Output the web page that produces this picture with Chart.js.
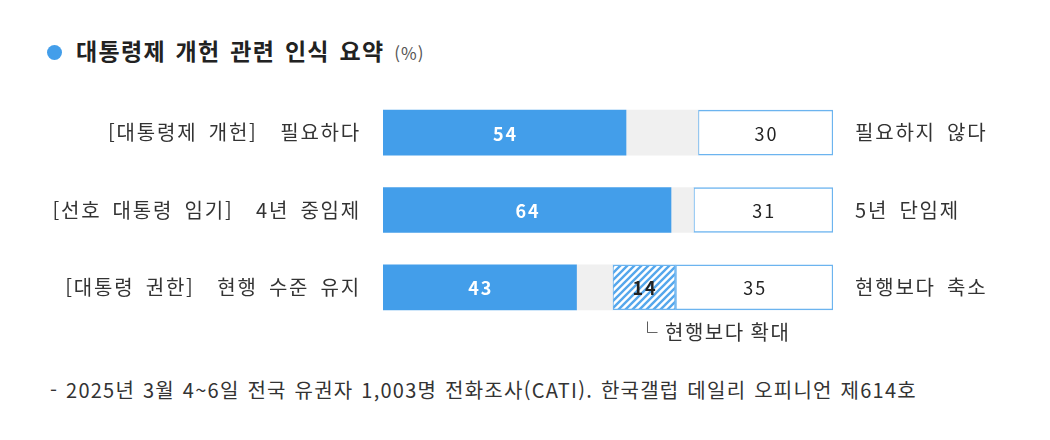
<!DOCTYPE html>
<html lang="ko">
<head>
  <meta charset="UTF-8">
  <title>대통령제 개헌 관련 인식 요약</title>
  <script src="https://cdn.jsdelivr.net/npm/chart.js"></script>
  <style>
    body { margin: 0; background: #fff; font-family: "Noto Sans CJK KR", "Noto Sans", sans-serif; color: #333; }
    .wrap { position: relative; width: 1050px; height: 440px; }
    .title { position: absolute; left: 47px; top: 34px; line-height: 32px; font-size: 23px; font-weight: bold; color: #222; letter-spacing: 1.3px; word-spacing: 2px; }
    .title .dot { display: inline-block; width: 15px; height: 15px; border-radius: 50%; background: #439eea; margin-right: 14px; vertical-align: 0px; }
    .title small { font-size: 17px; font-weight: normal; color: #555; letter-spacing: 1px; }
    .note { position: absolute; left: 50px; top: 375px; line-height: 30px; font-size: 20px; color: #333; letter-spacing: 1.25px; word-spacing: 1px; }
    #chartBox { position: absolute; left: 0; top: 60px; width: 1050px; height: 300px; }
  </style>
</head>
<body>
  <div class="wrap">
    <div class="title"><span class="dot"></span>대통령제 개헌 관련 인식 요약 <small>(%)</small></div>
    <div id="chartBox"><canvas id="chart"></canvas></div>
    <div class="note">- 2025년 3월 4~6일 전국 유권자 1,003명 전화조사(CATI). 한국갤럽 데일리 오피니언 제614호</div>
  </div>
  <script>
    const leftLabels = ['[대통령제 개헌]  필요하다', '[선호 대통령 임기]  4년 중임제', '[대통령 권한]  현행 수준 유지'];
    const rightLabels = ['필요하지 않다', '5년 단임제', '현행보다 축소'];
    const leftValues = [54, 64, 43];
    const otherValues = [16, 5, 8];
    const hatchValues = [0, 0, 14];
    const rightValues = [30, 31, 35];
    const hatchNote = '└ 현행보다 확대';

    const BLUE = '#439eea';
    const EDGE = '#6cb4ef';

    function makeHatch() {
      const c = document.createElement('canvas');
      c.width = 7; c.height = 7;
      const g = c.getContext('2d');
      g.fillStyle = '#fff';
      g.fillRect(0, 0, 7, 7);
      g.strokeStyle = '#55a7ec';
      g.lineWidth = 2.4;
      g.beginPath();
      g.moveTo(0, 7); g.lineTo(7, 0);
      g.moveTo(-3.5, 3.5); g.lineTo(3.5, -3.5);
      g.moveTo(3.5, 10.5); g.lineTo(10.5, 3.5);
      g.stroke();
      return g.createPattern(c, 'repeat');
    }

    // wider text like the source image
    function spacing(chart) {
      chart.ctx.letterSpacing = '1.8px';
      chart.ctx.wordSpacing = '5px';
    }
    const textSpacing = {
      id: 'textSpacing',
      beforeUpdate: spacing,
      beforeLayout: spacing,
      beforeDraw: spacing
    };

    // value labels inside bars + note under the hatched piece
    const valueLabels = {
      id: 'valueLabels',
      afterDatasetsDraw(chart) {
        const ctx = chart.ctx;
        ctx.save();
        ctx.textAlign = 'center';
        ctx.textBaseline = 'middle';
        chart.data.datasets.forEach((ds, di) => {
          if (!ds.showValue) return;
          chart.getDatasetMeta(di).data.forEach((bar, i) => {
            const v = ds.data[i];
            if (!v) return;
            const x = (bar.x + bar.base) / 2;
            ctx.letterSpacing = '2px';
            ctx.font = ds.valueFont;
            ctx.fillStyle = ds.valueColor;
            ctx.fillText(v, x + 1, bar.y + 1);
            if (ds.note && i === 2) {
              ctx.letterSpacing = '1.5px';
              ctx.wordSpacing = '0px';
              ctx.font = '20px "Noto Sans CJK KR", sans-serif';
              ctx.fillStyle = '#333';
              ctx.textAlign = 'left';
              ctx.fillText(ds.note, bar.base + 25, bar.y + 45);
              ctx.textAlign = 'center';
            }
          });
        });
        ctx.restore();
      }
    };

    const labelFont = { family: '"Noto Sans CJK KR", sans-serif', size: 20 };

    new Chart(document.getElementById('chart'), {
      type: 'bar',
      data: {
        labels: leftLabels,
        datasets: [
          { data: leftValues, backgroundColor: BLUE, borderWidth: 0, showValue: true,
            valueFont: 'bold 18px "Noto Sans CJK KR", sans-serif', valueColor: '#fff' },
          { data: otherValues, backgroundColor: '#f0f0f0', borderWidth: 0 },
          { data: hatchValues, backgroundColor: makeHatch(), borderColor: EDGE, borderWidth: 1.5, borderSkipped: false,
            showValue: true, valueFont: 'bold 18px "Noto Sans CJK KR", sans-serif', valueColor: '#222', note: hatchNote },
          { data: rightValues, backgroundColor: '#fff', borderColor: EDGE, borderWidth: 1.5, borderSkipped: false,
            showValue: true, valueFont: '18px "Noto Sans CJK KR", sans-serif', valueColor: '#222' }
        ]
      },
      options: {
        indexAxis: 'y',
        responsive: true,
        maintainAspectRatio: false,
        animation: false,
        layout: { padding: { top: 0, bottom: 23 } },
        datasets: { bar: { barThickness: 45 } },
        plugins: { legend: { display: false }, tooltip: { enabled: false } },
        scales: {
          x: { stacked: true, min: 0, max: 100, display: false },
          y: {
            stacked: true,
            grid: { display: false, drawTicks: false },
            border: { display: false },
            ticks: { color: '#333', font: labelFont, padding: 22 },
            afterFit(s) { s.width = 383; }
          },
          yRight: {
            type: 'category',
            labels: rightLabels,
            position: 'right',
            offset: true,
            grid: { display: false, drawTicks: false },
            border: { display: false },
            ticks: { color: '#333', font: labelFont, padding: 22 },
            afterFit(s) { s.width = 217; }
          }
        }
      },
      plugins: [textSpacing, valueLabels]
    });
  </script>
</body>
</html>
